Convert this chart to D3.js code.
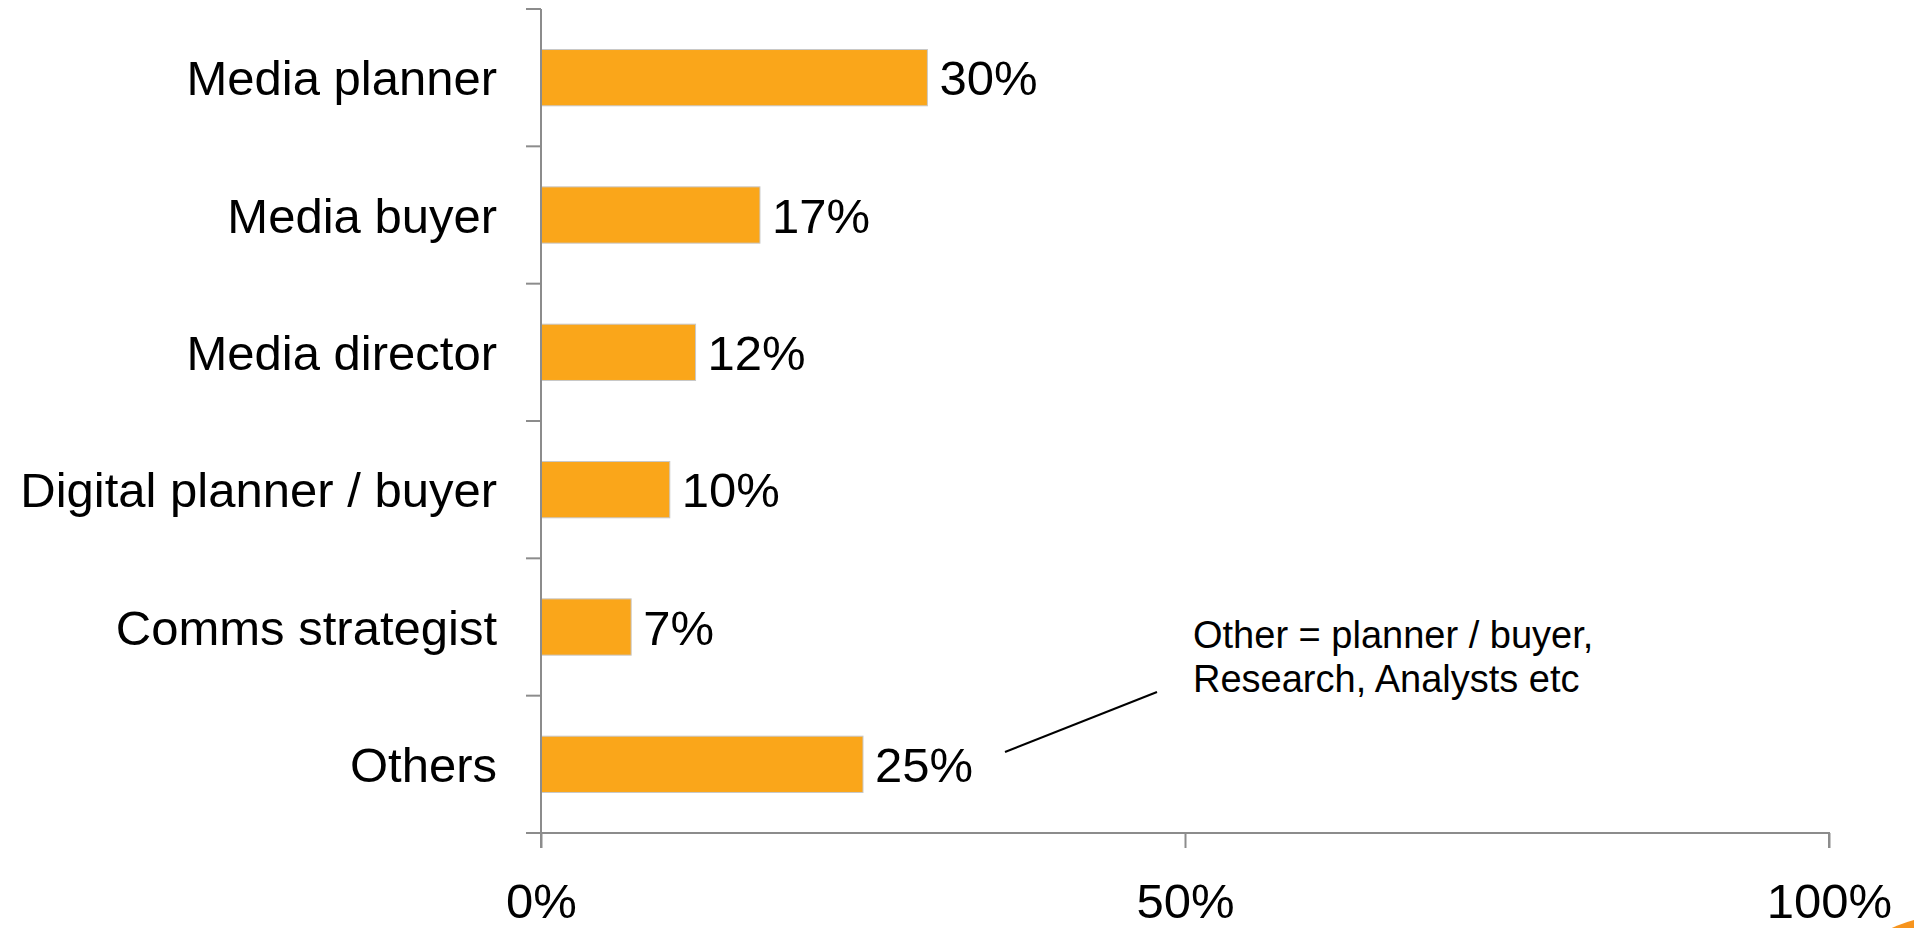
<!DOCTYPE html>
<html>
<head>
<meta charset="utf-8">
<script src="https://cdn.jsdelivr.net/npm/d3@7"></script>
<style>
  html, body { margin: 0; padding: 0; background: #fff; overflow: hidden; }
  svg { display: block; }
  text { font-family: "Liberation Sans", Arial, sans-serif; fill: #000; }
</style>
</head>
<body>
<svg id="chart" width="1914" height="928"></svg>
<script>
// Job roles and share of respondents (%)
const categories = ["Media planner", "Media buyer", "Media director", "Digital planner / buyer", "Comms strategist", "Others"];
const values = [30, 17, 12, 10, 7, 25];
const tickValues = [0, 50, 100];
const noteLines = ["Other = planner / buyer,", "Research, Analysts etc"];

const svg = d3.select("#chart");
const axisColor = "#8c8c8c";
const barColor = "#FAA61A";

const x = d3.scaleLinear().domain([0, 100]).range([541, 1829]);
const y = d3.scaleBand().domain(categories).range([9, 833]).paddingInner(0.59).paddingOuter(0.295);

// decorative corner disc
svg.append("circle").attr("cx", 1945).attr("cy", 1040).attr("r", 124).attr("fill", "#F7941D");

// bars
svg.append("g").selectAll("rect").data(categories).join("rect")
  .attr("x", x(0))
  .attr("y", d => y(d))
  .attr("width", (d, i) => x(values[i]) - x(0))
  .attr("height", y.bandwidth())
  .attr("fill", barColor)
  .attr("stroke", "#c8c8c8")
  .attr("stroke-width", 1);

// value labels
svg.append("g").selectAll("text").data(categories).join("text")
  .attr("x", (d, i) => x(values[i]) + 12)
  .attr("y", d => y(d) + y.bandwidth() / 2)
  .attr("dy", "0.36em")
  .attr("font-size", 49)
  .text((d, i) => values[i] + "%");

// category axis: line plus ticks at band boundaries
const yRange = y.range();
const boundaries = d3.range(categories.length + 1).map(i => yRange[0] + i * y.step());
const gy = svg.append("g");
gy.append("line").attr("x1", x(0)).attr("x2", x(0)).attr("y1", yRange[0]).attr("y2", yRange[1] + 15)
  .attr("stroke", axisColor).attr("stroke-width", 2);
gy.selectAll("line.tick").data(boundaries).join("line").attr("class", "tick")
  .attr("x1", x(0) - 15).attr("x2", x(0)).attr("y1", d => d).attr("y2", d => d)
  .attr("stroke", axisColor).attr("stroke-width", 2);
gy.selectAll("text").data(categories).join("text")
  .attr("x", x(0) - 44)
  .attr("y", d => y(d) + y.bandwidth() / 2)
  .attr("dy", "0.36em")
  .attr("text-anchor", "end")
  .attr("font-size", 49)
  .text(d => d);

// value axis
const xAxis = d3.axisBottom(x).tickValues(tickValues).tickSize(15).tickFormat(d => d + "%");
const gx = svg.append("g").attr("transform", `translate(0,${yRange[1]})`).call(xAxis);
gx.select(".domain").attr("stroke", axisColor).attr("stroke-width", 2).attr("d", `M${x(0)},0H${x(100)}V15`);
gx.selectAll(".tick line").attr("stroke", axisColor).attr("stroke-width", 2);
gx.selectAll(".tick text")
  .attr("y", 85).attr("dy", 0)
  .attr("font-size", 49)
  .attr("font-family", "Liberation Sans, Arial, sans-serif")
  .attr("fill", "#000");

// note about the "Others" group
svg.append("line").attr("x1", 1005).attr("y1", 752).attr("x2", 1157).attr("y2", 692)
  .attr("stroke", "#000").attr("stroke-width", 2);
svg.append("g").selectAll("text").data(noteLines).join("text")
  .attr("x", 1193)
  .attr("y", (d, i) => 648 + i * 44)
  .attr("font-size", 38)
  .text(d => d);
</script>
</body>
</html>
